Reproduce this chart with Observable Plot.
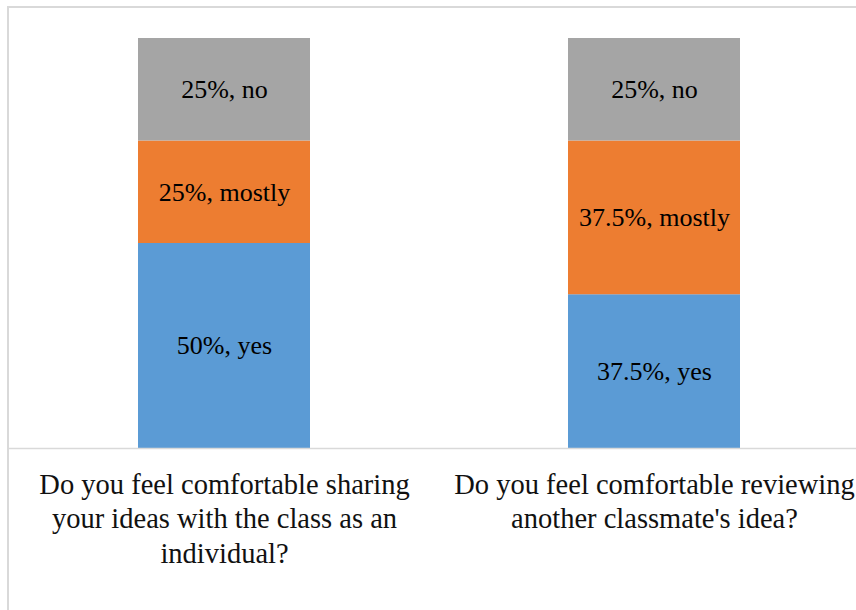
<!DOCTYPE html>
<html>
<head>
<meta charset="utf-8">
<script src="https://cdn.jsdelivr.net/npm/d3@7"></script>
<script src="https://cdn.jsdelivr.net/npm/@observablehq/plot@0.6"></script>
<style>
  html, body { margin: 0; padding: 0; background: #fff; overflow: hidden; }
  #wrap { position: relative; width: 856px; height: 610px; overflow: hidden; }
  #border { position: absolute; left: 7px; top: 6px; width: 900px; height: 700px; border: 2px solid #d9d9d9; box-sizing: border-box; pointer-events: none; }
  #chart { position: absolute; left: 0; top: 0; }
  #chart svg { max-width: none !important; background: transparent !important; overflow: visible; }
  #chart svg text { font-family: "Liberation Serif", "Times New Roman", serif !important; }
</style>
</head>
<body>
<div id="wrap"><div id="chart"></div><div id="border"></div></div>
<script>
const categories = ["share", "review"];
const tickLabels = [
  "Do you feel comfortable sharing\nyour ideas with the class as an\nindividual?",
  "Do you feel comfortable reviewing\nanother classmate's idea?"
];
const responses = ["yes", "mostly", "no"];
const shareValues = [50, 25, 25];
const reviewValues = [37.5, 37.5, 25];
const colors = ["#5B9BD5", "#ED7D31", "#A5A5A5"];

const seriesValues = [shareValues, reviewValues];
const data = [];
categories.forEach((c, i) => {
  responses.forEach((r, j) => {
    data.push({category: c, response: r, value: seriesValues[i][j],
               label: `${seriesValues[i][j]}%, ${r}`});
  });
});
const ticks = categories.map((c, i) => ({category: c, label: tickLabels[i]}));
const serif = "Liberation Serif, Times New Roman, serif";

const chart = Plot.plot({
  width: 856,
  height: 610,
  marginLeft: 8,
  marginRight: 0,
  marginTop: 38,
  marginBottom: 162,
  x: {domain: categories, range: [9, 869], paddingInner: 0.6, paddingOuter: 0.3, axis: null},
  y: {domain: [0, 100], axis: null},
  color: {domain: responses, range: colors},
  marks: [
    Plot.barY(data, {x: "category", y: "value", fill: "response", order: null}),
    Plot.ruleY([0], {stroke: "#d9d9d9", strokeWidth: 1.5}),
    Plot.text(data, Plot.stackY({x: "category", y: "value", text: "label", fill: "black", fontSize: 26, fontFamily: serif, order: null})),
    Plot.text(ticks, {x: "category", y: 0, text: "label", dy: 21.5, lineAnchor: "top", lineHeight: 1.2, fontSize: 28.5, fontFamily: serif, fill: "#111"})
  ]
});
document.getElementById("chart").appendChild(chart);
</script>
</body>
</html>
